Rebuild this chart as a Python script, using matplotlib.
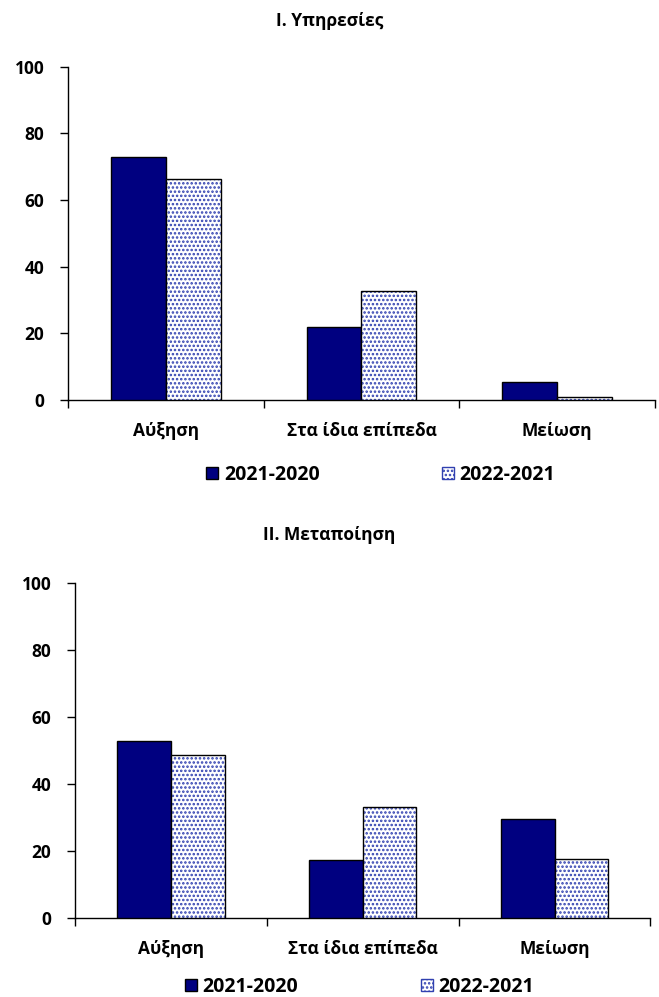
import matplotlib
matplotlib.use("Agg")
import matplotlib.pyplot as plt
from matplotlib.patches import Patch
from matplotlib.ticker import FixedLocator
import numpy as np

plt.rcParams['font.family'] = ['Open Sans', 'DejaVu Sans']
plt.rcParams['font.weight'] = 'bold'
plt.rcParams['hatch.linewidth'] = 1.2

categories = ['Αύξηση', 'Στα ίδια επίπεδα', 'Μείωση']
series_names = ['2021-2020', '2022-2021']

services_2021 = [72.8, 21.9, 5.2]
services_2022 = [66.4, 32.8, 0.8]

manufacturing_2021 = [52.8, 17.3, 29.7]
manufacturing_2022 = [48.7, 33.2, 17.8]

yticks = [0, 20, 40, 60, 80, 100]

NAVY = '#000080'
DOTS = '#3040b0'


def draw_panel(ax, v1, v2, legend_xy):
    x = np.arange(len(categories))
    w = 0.28
    ax.bar(x - w / 2, v1, w, color=NAVY, edgecolor='black', linewidth=1.0, zorder=3)
    # dotted bars: hatch first, then a black outline on top
    ax.bar(x + w / 2, v2, w, color='white', edgecolor=DOTS, hatch='....', linewidth=0, zorder=3)
    ax.bar(x + w / 2, v2, w, fill=False, edgecolor='black', linewidth=1.0, zorder=4)

    ax.set_xlim(-0.5, 2.5)
    ax.set_ylim(0, 100)
    ax.set_yticks(yticks)
    ax.set_xticks(x)
    ax.set_xticklabels(categories, fontsize=12.5, fontweight='bold')
    ax.xaxis.set_minor_locator(FixedLocator([-0.5, 0.5, 1.5, 2.5]))
    ax.tick_params(axis='x', which='major', length=0, pad=16)
    ax.tick_params(axis='x', which='minor', length=6, width=1, direction='out')
    ax.tick_params(axis='y', length=6, width=1, direction='out', labelsize=12.5, pad=11)
    for lab in ax.get_yticklabels():
        lab.set_fontweight('bold')
    ax.spines['top'].set_visible(False)
    ax.spines['right'].set_visible(False)
    ax.spines['left'].set_linewidth(1)
    ax.spines['bottom'].set_linewidth(1)

    handles = [Patch(facecolor=NAVY, edgecolor='black', label=series_names[0]),
               Patch(facecolor='white', edgecolor=DOTS, hatch='....', label=series_names[1])]
    ax.legend(handles=handles, loc='center', bbox_to_anchor=legend_xy, ncol=2,
              frameon=False, handlelength=0.62, handleheight=0.62,
              handletextpad=0.28, columnspacing=6.3, prop={'weight': 'bold', 'size': 14})


fig = plt.figure(figsize=(6.59, 9.97), dpi=100)
ax1 = fig.add_axes([0.103, 0.599, 0.891, 0.334])
ax2 = fig.add_axes([0.114, 0.079, 0.873, 0.336])

draw_panel(ax1, services_2021, services_2022, (0.533, -0.225))
draw_panel(ax2, manufacturing_2021, manufacturing_2022, (0.494, -0.205))

fig.text(0.5, 1 - 21 / 997, 'I. Υπηρεσίες', ha='center', va='center', fontsize=12.5, fontweight='bold')
fig.text(0.5, 1 - 535 / 997, 'II. Μεταποίηση', ha='center', va='center', fontsize=12.5, fontweight='bold')

fig.savefig('out.png', dpi=100)
